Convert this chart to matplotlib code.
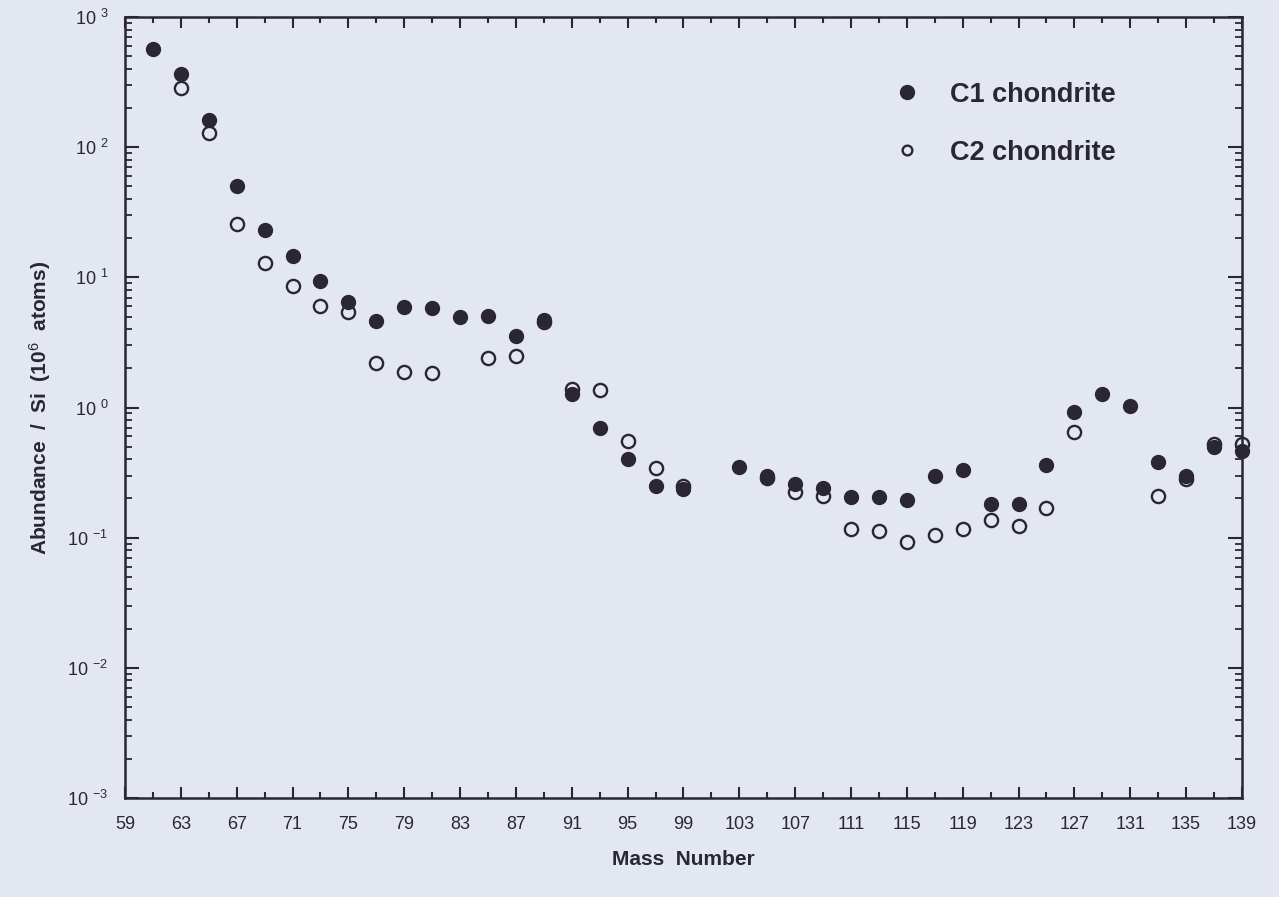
import numpy as np
import matplotlib
matplotlib.use("Agg")
import matplotlib.pyplot as plt
from matplotlib.ticker import FixedLocator, LogLocator, FuncFormatter, NullFormatter

# Colours
BG = "#e3e8f0"
INK = "#2a2636"

# Data (odd mass numbers)
mass_c1 = [61, 63, 65, 67, 69, 71, 73, 75, 77, 79, 81, 83, 85, 87, 89, 91, 93, 95, 97, 99,
           103, 105, 107, 109, 111, 113, 115, 117, 119, 121, 123, 125, 127, 129, 131,
           133, 135, 137, 139]
c1 = [566, 366, 161, 50.4, 23.0, 14.7, 9.3, 6.5, 4.6, 5.9, 5.85, 4.97, 5.04, 3.56, 4.74,
      1.28, 0.69, 0.40, 0.25, 0.237,
      0.35, 0.30, 0.26, 0.24, 0.205, 0.207, 0.193, 0.30, 0.33, 0.18, 0.18, 0.36, 0.93,
      1.28, 1.03, 0.38, 0.30, 0.50, 0.46]

mass_c2 = [63, 65, 67, 69, 71, 73, 75, 77, 79, 81, 85, 87, 89, 91, 93, 95, 97, 99,
           105, 107, 109, 111, 113, 115, 117, 119, 121, 123, 125, 127, 133, 135, 137, 139]
c2 = [285, 129, 25.5, 12.9, 8.6, 6.0, 5.4, 2.18, 1.86, 1.85, 2.38, 2.49, 4.5, 1.39, 1.36,
      0.55, 0.34, 0.25,
      0.285, 0.226, 0.21, 0.116, 0.113, 0.092, 0.105, 0.117, 0.136, 0.123, 0.17, 0.65,
      0.21, 0.28, 0.52, 0.52]

x_major = list(range(59, 140, 4))
x_minor = list(range(61, 140, 4))
y_major = [1e-3, 1e-2, 1e-1, 1e0, 1e1, 1e2, 1e3]

plt.rcParams["font.family"] = ["Liberation Sans", "DejaVu Sans"]
plt.rcParams["mathtext.fontset"] = "custom"
plt.rcParams["mathtext.rm"] = "Liberation Sans"
plt.rcParams["mathtext.it"] = "Liberation Sans"
plt.rcParams["mathtext.bf"] = "Liberation Sans:bold"

fig = plt.figure(figsize=(12.79, 8.97), dpi=100, facecolor=BG)
ax = fig.add_axes([0.0977, 0.1104, 0.8733, 0.8706], facecolor=BG)

ax.plot(mass_c2, c2, linestyle="none", marker="o", markersize=9.5,
        markerfacecolor="none", markeredgecolor=INK, markeredgewidth=1.7,
        label="C2 chondrite", zorder=3, clip_on=False)
ax.plot(mass_c1, c1, linestyle="none", marker="o", markersize=10,
        markerfacecolor=INK, markeredgecolor=INK, label="C1 chondrite", zorder=4,
        clip_on=False)

ax.set_yscale("log")
ax.set_xlim(59, 139)
ax.set_ylim(1e-3, 1e3)

ax.xaxis.set_major_locator(FixedLocator(x_major))
ax.xaxis.set_minor_locator(FixedLocator(x_minor))
ax.yaxis.set_major_locator(FixedLocator(y_major))
ax.yaxis.set_minor_locator(LogLocator(base=10, subs=np.arange(2, 10), numticks=20))
ax.yaxis.set_minor_formatter(NullFormatter())
ax.yaxis.set_major_formatter(FuncFormatter(lambda v, p: r"10 $^{%d}$" % round(np.log10(v))))

ax.tick_params(axis="both", which="both", direction="in", top=True, right=True,
               color=INK, labelcolor=INK)
ax.tick_params(axis="x", which="major", length=8, width=1.5, labelsize=13, pad=13)
ax.tick_params(axis="x", which="minor", length=4, width=1.5)
ax.tick_params(axis="y", which="major", length=10, width=1.5, labelsize=13, pad=12)
ax.tick_params(axis="y", which="minor", length=5, width=1.3)

for s in ax.spines.values():
    s.set_linewidth(1.8)
    s.set_color(INK)

ax.set_xlabel("Mass  Number", fontsize=15, fontweight="bold", color=INK, labelpad=12)
ax.set_ylabel(r"Abundance  /  Si  (10$^{6}$  atoms)", fontsize=15, fontweight="bold",
              color=INK, labelpad=10)

leg = ax.legend(handles=ax.get_lines()[::-1], loc="upper left",
                bbox_to_anchor=(0.666, 0.931), frameon=False,
                prop={"size": 19.5, "weight": "bold"},
                handletextpad=0.6, labelspacing=1.18, borderaxespad=0)
leg.legend_handles[0].set_markersize(10)
leg.legend_handles[1].set_markersize(7)
for t in leg.get_texts():
    t.set_color(INK)

fig.savefig("out.png", dpi=100, facecolor=BG)
